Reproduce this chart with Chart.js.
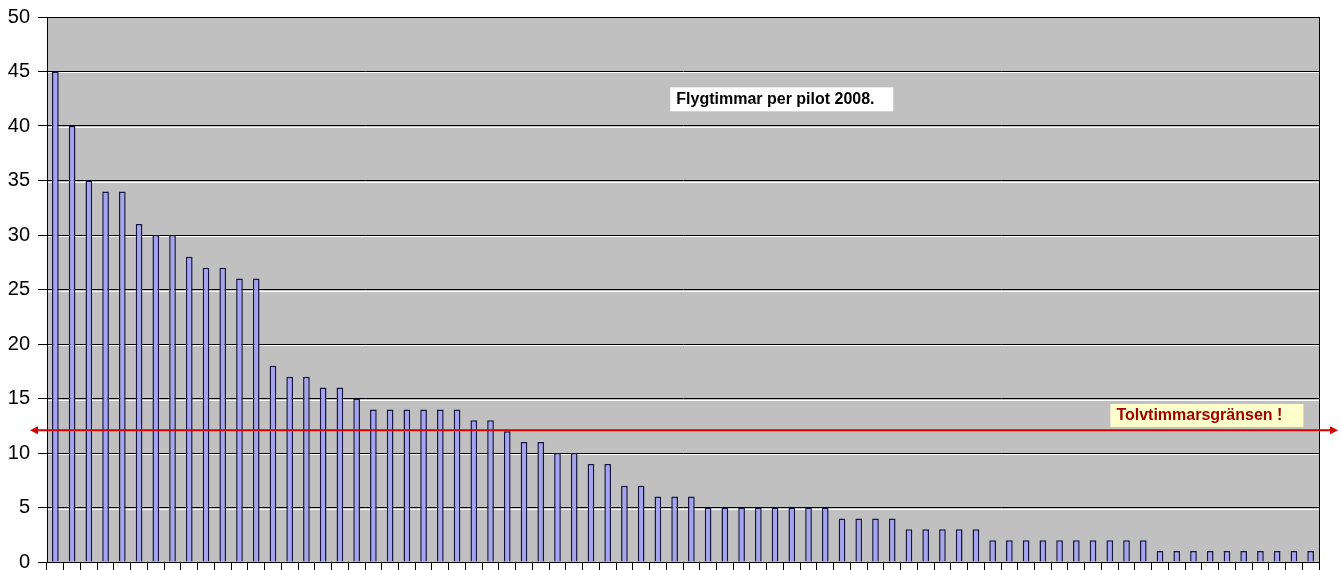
<!DOCTYPE html>
<html>
<head>
<meta charset="utf-8">
<script src="https://cdn.jsdelivr.net/npm/chart.js@4.4.1/dist/chart.umd.min.js"></script>
<style>
html, body { margin: 0; padding: 0; background: #fff; }
</style>
</head>
<body>
<canvas id="myChart" width="1341" height="570"></canvas>
<script>
// Hours flown per pilot, sorted high to low
const hours = [45, 40, 35, 34, 34, 31, 30, 30, 28, 27, 27, 26, 26,
    18, 17, 17, 16, 16, 15, 14, 14, 14, 14, 14, 14, 13, 13, 12, 11, 11,
    10, 10, 9, 9, 7, 7, 6, 6, 6, 5, 5, 5, 5, 5, 5, 5, 5, 4, 4, 4, 4,
    3, 3, 3, 3, 3, 2, 2, 2, 2, 2, 2, 2, 2, 2, 2, 1, 1, 1, 1, 1, 1, 1, 1, 1, 1]
const pilots = hours.map((h, i) => String(i + 1))
const yTicks = [0, 5, 10, 15, 20, 25, 30, 35, 40, 45, 50]
const limitHours = 12
const titleText = 'Flygtimmar per pilot 2008.'
const limitText = 'Tolvtimmarsgränsen !'

Chart.defaults.font.family = 'Arial, "Liberation Sans", sans-serif'

const ctx = document.getElementById('myChart').getContext('2d')

// Grey plot area, engraved grid lines, frame, arrow and the two labels
const decor = {
    id: 'decor',
    beforeDraw(chart) {
        const { ctx, chartArea: a } = chart
        ctx.save()
        ctx.fillStyle = '#c0c0c0'
        ctx.fillRect(a.left, a.top, a.right - a.left, a.bottom - a.top)
        ctx.restore()
    },
    beforeDatasetsDraw(chart) {
        const { ctx, chartArea: a, scales: { y } } = chart
        ctx.save()
        ctx.strokeStyle = '#ffffff'
        ctx.lineWidth = 1
        yTicks.forEach(v => {
            if (v === 0 || v === 50) return
            const py = Math.round(y.getPixelForValue(v)) + 1.5
            ctx.beginPath()
            ctx.moveTo(a.left, py)
            ctx.lineTo(a.right, py)
            ctx.stroke()
        })
        ctx.restore()
    },
    afterDatasetsDraw(chart) {
        const { ctx, chartArea: a, scales: { y } } = chart
        ctx.save()
        ctx.strokeStyle = '#000'
        ctx.lineWidth = 1
        ctx.strokeRect(a.left + 0.5, a.top + 0.5, a.right - a.left, a.bottom - a.top)

        // red limit arrow, runs past the plot on both sides
        const ly = y.getPixelForValue(limitHours) - 1
        const x1 = 30, x2 = 1338
        ctx.strokeStyle = '#d00000'
        ctx.fillStyle = '#d00000'
        ctx.lineWidth = 2
        ctx.beginPath()
        ctx.moveTo(x1 + 6, ly)
        ctx.lineTo(x2 - 6, ly)
        ctx.stroke()
        ctx.beginPath()
        ctx.moveTo(x1, ly); ctx.lineTo(x1 + 8, ly - 4); ctx.lineTo(x1 + 8, ly + 4)
        ctx.closePath(); ctx.fill()
        ctx.beginPath()
        ctx.moveTo(x2, ly); ctx.lineTo(x2 - 8, ly - 4); ctx.lineTo(x2 - 8, ly + 4)
        ctx.closePath(); ctx.fill()

        // title box
        ctx.font = 'bold 16px Arial, "Liberation Sans", sans-serif'
        ctx.textBaseline = 'middle'
        ctx.textAlign = 'left'
        const w = a.right - a.left
        let bx = a.left + w * 0.49, by = y.getPixelForValue(43.55)
        ctx.fillStyle = '#ffffff'
        ctx.fillRect(bx, by, 223, 24)
        ctx.fillStyle = '#000'
        ctx.fillText(titleText, bx + 6, by + 12.5)

        // limit label box
        bx = a.left + w * 0.836
        by = y.getPixelForValue(14.5)
        ctx.fillStyle = '#ffffcc'
        ctx.fillRect(bx, by, 193, 23)
        ctx.fillStyle = '#a00000'
        ctx.fillText(limitText, bx + 6, by + 12)
        ctx.restore()
    }
}

const myChart = new Chart(ctx, {
    type: 'bar',
    data: {
        labels: pilots,
        datasets: [{
            label: 'Flygtimmar',
            data: hours,
            backgroundColor: '#a4a4f0',
            borderColor: '#161640',
            borderWidth: 1.5,
            categoryPercentage: 1,
            barPercentage: 0.4
        }]
    },
    options: {
        responsive: false,
        animation: false,
        devicePixelRatio: 1,
        layout: { padding: { left: 0, top: 17, right: 22, bottom: 0 } },
        plugins: {
            legend: { display: false },
            tooltip: { enabled: false }
        },
        scales: {
            x: {
                offset: true,
                ticks: { display: false },
                afterFit: (scale) => { scale.height = 8; scale.paddingLeft = 0; scale.paddingRight = 0 },
                grid: {
                    offset: true,
                    drawOnChartArea: false,
                    drawTicks: true,
                    tickLength: 8,
                    color: '#000'
                },
                border: { display: true, color: '#000' }
            },
            y: {
                min: 0,
                max: 50,
                afterBuildTicks: (scale) => { scale.ticks = yTicks.map(v => ({ value: v })) },
                afterFit: (scale) => { scale.width = 47; scale.paddingTop = 0; scale.paddingBottom = 0 },
                ticks: {
                    color: '#000',
                    padding: 8,
                    font: { size: 20 }
                },
                grid: {
                    color: '#000',
                    tickLength: 9,
                    drawTicks: true
                },
                border: { display: true, color: '#000' }
            }
        }
    },
    plugins: [decor]
})
</script>
</body>
</html>
